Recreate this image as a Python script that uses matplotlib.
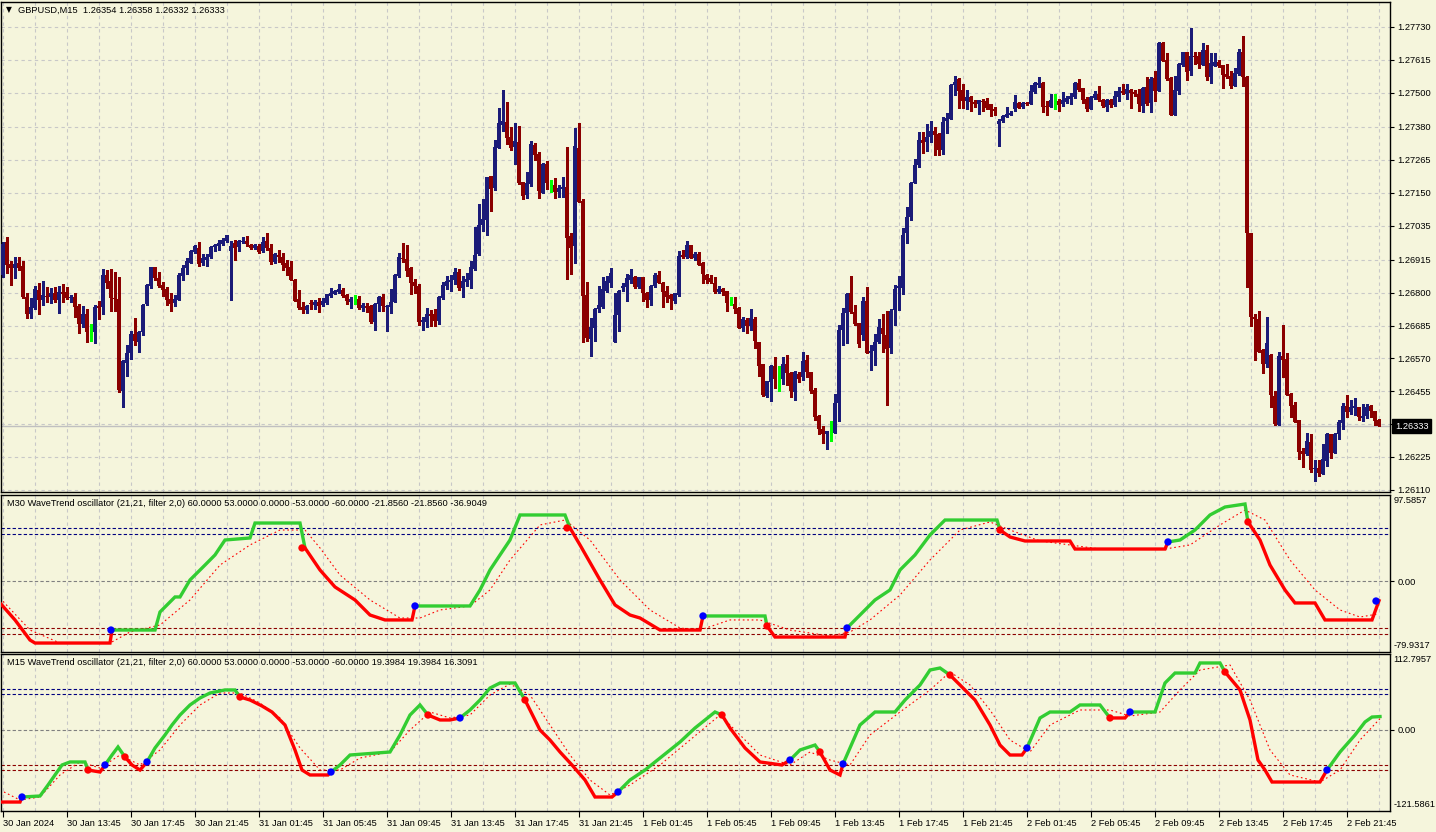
import numpy as np
import matplotlib.pyplot as plt
from matplotlib.transforms import blended_transform_factory

plt.rcParams['font.family'] = ['Liberation Sans', 'DejaVu Sans']
plt.rcParams['font.size'] = 6.7

BG = '#F5F5DC'
BULL = '#1B1B78'
BEAR = '#8B0000'
DOJI = '#00FF00'
GRID = '#C8C8C8'
FS = 6.7

# GBPUSD M15, 30 Jan 2024 09:45 .. 2 Feb 2024 23:45 (345 bars)
# prices in pips above 1.26000
BASE = 1.26
open_pips = [
    86.2, 97.9, 90.0, 88.8, 90.4, 89.4, 78.5, 72.7, 74.8, 81.0, 77.4, 79.0, 78.5, 79.8, 77.4, 80.0,
    80.1, 78.0, 78.5, 75.5, 69.1, 72.5, 66.4, 66.3, 75.4, 75.1, 86.2, 84.1, 78.3, 77.8, 45.7, 55.5,
    58.9, 65.7, 62.9, 66.1, 75.9, 82.4, 89.0, 85.0, 82.7, 81.2, 77.8, 76.3, 77.5, 86.0, 88.7, 90.5,
    94.4, 95.7, 90.3, 91.6, 92.5, 96.0, 96.5, 97.2, 98.1, 94.7, 97.3, 96.0, 97.8, 98.1, 96.7, 95.5,
    96.2, 94.7, 98.1, 95.7, 90.9, 93.3, 92.4, 90.4, 89.0, 84.6, 77.8, 75.0, 74.1, 76.3, 75.7, 76.8,
    75.7, 76.3, 78.9, 79.7, 80.4, 81.0, 79.2, 76.9, 77.7, 77.8, 74.5, 75.5, 75.5, 69.8, 76.1, 78.5,
    74.9, 75.1, 76.8, 86.0, 92.3, 91.8, 88.5, 83.9, 82.5, 69.9, 69.9, 72.7, 72.6, 70.1, 78.0, 82.2,
    83.9, 84.6, 87.3, 81.8, 83.9, 84.6, 88.2, 93.5, 103.6, 105.6, 120.9, 116.7, 130.8, 138.8, 139.8, 134.6,
    131.1, 132.9, 118.6, 114.2, 117.9, 131.7, 128.6, 115.0, 125.1, 118.1, 117.7, 115.1, 116.3, 116.9, 99.9, 96.5,
    130.7, 112.1, 79.2, 63.9, 67.8, 74.3, 75.1, 80.7, 83.5, 62.9, 72.2, 81.8, 81.9, 84.5, 85.6, 81.9,
    85.6, 79.8, 77.5, 82.4, 86.2, 83.3, 80.7, 79.1, 77.2, 79.3, 93.2, 92.6, 96.7, 92.3, 93.6, 90.4,
    86.2, 85.2, 83.5, 80.3, 81.3, 80.5, 76.3, 76.1, 74.8, 67.8, 70.5, 68.4, 70.8, 62.8, 55.1, 44.0,
    48.9, 54.5, 49.9, 49.8, 55.1, 52.0, 45.4, 51.6, 50.4, 56.5, 52.4, 46.0, 37.0, 32.4, 30.4, 31.6,
    31.0, 41.5, 67.0, 72.8, 80.0, 73.3, 69.5, 65.2, 77.2, 59.0, 59.6, 62.7, 67.8, 65.2, 60.8, 74.0,
    81.8, 81.8, 100.8, 106.6, 118.5, 124.7, 133.5, 132.9, 134.4, 136.6, 135.7, 130.1, 140.1, 140.9, 152.6, 154.8,
    151.0, 147.2, 148.5, 146.8, 146.0, 147.2, 147.1, 146.1, 144.4, 139.2, 140.1, 141.5, 142.3, 144.3, 146.5, 145.1,
    146.5, 146.2, 150.4, 152.8, 153.5, 145.4, 145.1, 147.4, 147.1, 146.0, 146.8, 147.9, 148.4, 153.5, 151.5, 147.9,
    144.3, 148.2, 149.6, 147.5, 145.1, 147.4, 145.7, 148.5, 150.5, 149.4, 151.0, 150.1, 149.6, 145.5, 152.0, 146.3,
    155.2, 150.6, 167.5, 161.5, 155.2, 142.2, 150.6, 159.7, 164.1, 157.6, 162.9, 162.9, 159.7, 165.0, 155.6, 159.5,
    160.9, 159.7, 156.6, 155.9, 152.4, 156.6, 164.3, 155.5, 101.0, 71.6, 70.8, 60.0, 55.1, 58.2, 43.9, 33.7,
    57.9, 56.7, 44.6, 40.7, 35.5, 24.6, 23.5, 27.6, 18.2, 18.6, 16.4, 21.2, 30.6, 24.0, 30.5, 34.5,
    40.4, 38.4, 39.8, 39.9, 36.3, 37.0, 40.4, 38.7, 35.4,
]
high_pips = [
    97.9, 99.5, 91.1, 92.5, 92.5, 91.1, 79.8, 78.0, 82.3, 83.3, 84.1, 82.0, 81.5, 82.0, 82.3, 82.9,
    82.0, 79.2, 79.8, 75.9, 75.5, 74.3, 69.1, 75.7, 77.1, 88.2, 87.8, 88.3, 87.1, 85.6, 56.5, 61.7,
    66.6, 71.0, 66.6, 76.2, 83.2, 89.0, 89.0, 87.1, 83.9, 82.1, 79.8, 79.2, 86.9, 89.7, 92.0, 95.1,
    96.7, 97.9, 93.4, 93.4, 96.5, 97.2, 98.3, 99.0, 100.2, 98.1, 98.3, 98.6, 99.6, 100.0, 97.1, 97.2,
    96.9, 99.5, 100.8, 97.1, 93.8, 95.0, 93.8, 91.5, 91.2, 84.8, 81.0, 76.9, 75.7, 77.5, 77.5, 78.0,
    78.0, 79.7, 81.7, 81.1, 82.9, 81.8, 79.5, 78.5, 79.2, 78.9, 76.3, 76.3, 75.7, 76.3, 79.0, 79.7,
    75.7, 81.3, 86.7, 93.8, 97.3, 96.7, 89.1, 84.7, 83.2, 71.6, 74.5, 74.0, 74.3, 79.0, 83.9, 86.0,
    86.2, 88.5, 88.3, 86.0, 86.8, 91.1, 103.1, 111.1, 112.8, 120.5, 120.9, 133.5, 144.7, 151.0, 146.8, 138.1,
    139.3, 138.4, 118.6, 122.3, 133.0, 132.3, 129.3, 125.3, 126.2, 119.5, 120.2, 117.8, 120.5, 131.0, 100.8, 137.7,
    139.5, 112.9, 83.9, 71.3, 74.8, 82.4, 85.6, 85.9, 88.8, 80.0, 81.0, 83.3, 86.4, 88.2, 85.9, 85.6,
    85.6, 80.4, 82.7, 87.0, 87.6, 83.8, 82.5, 79.5, 80.0, 94.7, 95.0, 98.1, 96.7, 94.4, 94.4, 90.7,
    86.6, 86.2, 85.6, 82.5, 81.5, 80.5, 78.4, 78.4, 75.1, 71.6, 71.1, 74.3, 71.6, 62.8, 55.1, 49.2,
    54.7, 57.4, 54.4, 57.4, 58.1, 52.3, 52.6, 52.3, 59.4, 58.2, 52.4, 46.8, 37.2, 33.4, 31.7, 35.2,
    44.6, 68.7, 74.7, 80.0, 85.9, 75.7, 69.5, 78.6, 82.1, 61.8, 65.6, 70.7, 72.7, 73.6, 74.2, 82.7,
    85.9, 102.8, 109.9, 118.8, 126.8, 136.3, 136.3, 139.1, 140.1, 137.9, 136.0, 141.6, 143.0, 153.1, 155.9, 155.2,
    153.1, 151.0, 148.9, 147.5, 147.5, 147.7, 148.0, 146.1, 144.9, 140.7, 142.2, 144.9, 143.7, 149.2, 146.9, 146.7,
    146.8, 152.7, 153.9, 155.4, 153.8, 147.1, 149.6, 149.6, 147.7, 150.1, 148.7, 149.8, 153.8, 154.7, 151.8, 148.6,
    148.9, 150.5, 152.4, 147.9, 147.7, 147.8, 150.5, 152.0, 153.0, 153.1, 151.2, 151.0, 151.3, 152.1, 155.5, 155.4,
    157.6, 167.8, 167.8, 163.9, 155.4, 155.9, 160.3, 164.4, 164.1, 172.8, 164.1, 164.4, 167.3, 166.7, 163.8, 163.8,
    161.5, 159.7, 160.0, 157.7, 158.5, 165.3, 169.9, 155.9, 101.0, 72.6, 73.7, 60.2, 71.6, 58.6, 45.7, 59.4,
    68.7, 59.0, 45.0, 41.9, 35.5, 25.5, 30.8, 30.6, 21.5, 21.5, 27.1, 30.8, 30.6, 31.0, 35.5, 41.5,
    44.2, 42.5, 43.0, 40.1, 41.1, 41.1, 40.7, 38.7, 35.8,
]
low_pips = [
    85.6, 86.8, 82.7, 85.3, 88.0, 78.0, 71.3, 71.3, 74.3, 72.7, 75.7, 76.6, 76.4, 76.9, 72.9, 76.9,
    77.8, 76.9, 71.6, 66.0, 68.1, 62.9, 63.1, 62.5, 70.8, 72.5, 81.5, 73.6, 73.6, 45.4, 40.0, 50.8,
    56.8, 61.7, 59.4, 65.2, 75.7, 81.8, 84.4, 82.1, 79.0, 75.7, 73.6, 75.2, 77.3, 84.3, 86.4, 90.3,
    93.9, 89.5, 89.7, 89.5, 92.3, 94.6, 94.8, 96.7, 97.9, 77.5, 91.5, 94.7, 97.3, 96.5, 95.3, 95.3,
    93.8, 94.4, 95.0, 90.1, 90.3, 90.9, 87.8, 86.2, 84.5, 77.1, 74.3, 72.9, 73.0, 74.2, 74.3, 73.4,
    75.2, 76.2, 78.5, 79.5, 79.8, 78.5, 75.9, 74.8, 75.9, 74.3, 73.6, 73.4, 69.5, 67.0, 73.6, 73.6,
    66.6, 72.9, 76.8, 85.6, 90.9, 86.0, 79.4, 80.0, 68.7, 67.0, 68.1, 68.5, 68.2, 68.9, 77.8, 81.3,
    80.6, 83.2, 81.1, 78.6, 82.4, 81.8, 88.0, 93.1, 101.7, 100.3, 108.7, 116.0, 130.8, 136.7, 131.9, 130.0,
    125.1, 118.1, 112.8, 113.3, 117.5, 126.5, 113.3, 114.8, 116.3, 115.3, 113.3, 113.6, 113.4, 84.8, 86.7, 90.3,
    111.6, 62.8, 63.1, 58.0, 63.1, 73.4, 74.8, 80.4, 82.1, 62.9, 66.7, 80.7, 77.2, 83.3, 81.5, 81.5,
    77.2, 75.1, 75.7, 82.1, 83.3, 75.1, 76.6, 74.4, 76.3, 79.0, 92.1, 92.3, 92.3, 91.5, 89.7, 83.3,
    83.3, 83.3, 80.0, 80.0, 79.1, 73.7, 75.7, 72.8, 67.5, 66.6, 66.0, 67.0, 60.6, 51.0, 43.9, 43.6,
    42.2, 46.6, 45.7, 48.1, 47.6, 43.6, 42.5, 48.9, 49.5, 50.6, 44.8, 35.5, 30.4, 27.3, 25.2, 28.2,
    30.8, 35.2, 61.6, 62.3, 72.8, 68.7, 61.1, 63.5, 59.0, 53.0, 54.7, 62.5, 59.4, 40.7, 58.8, 68.7,
    74.0, 79.6, 97.5, 105.5, 118.3, 124.1, 128.8, 129.7, 132.9, 128.3, 128.3, 128.7, 136.0, 140.9, 149.3, 144.5,
    144.8, 144.3, 143.7, 145.1, 142.7, 143.7, 144.2, 142.0, 142.2, 131.5, 139.9, 141.4, 142.1, 143.7, 144.5, 144.7,
    145.7, 146.0, 149.8, 152.1, 143.3, 142.2, 144.9, 144.4, 143.7, 145.4, 146.3, 146.1, 148.2, 150.6, 146.5, 143.7,
    144.3, 147.9, 147.1, 144.9, 143.7, 144.9, 145.5, 147.1, 149.4, 147.8, 144.7, 149.0, 143.7, 143.4, 145.7, 143.4,
    147.1, 150.5, 161.1, 154.4, 142.2, 142.2, 149.6, 159.4, 154.5, 156.2, 160.1, 158.6, 159.7, 154.5, 153.5, 159.5,
    158.9, 151.7, 155.3, 151.6, 152.4, 156.3, 152.4, 82.1, 68.4, 56.5, 59.1, 51.8, 54.1, 40.1, 33.7, 33.7,
    50.6, 44.2, 36.4, 34.6, 21.7, 19.1, 23.2, 17.4, 14.2, 15.9, 16.4, 19.5, 22.0, 23.8, 28.7, 32.2,
    36.6, 37.4, 37.2, 35.5, 35.2, 36.3, 36.6, 33.7, 33.2,
]
close_pips = [
    96.9, 89.7, 88.8, 90.0, 88.8, 78.5, 72.7, 75.0, 81.2, 77.4, 79.2, 78.5, 79.8, 77.4, 80.4, 79.7,
    78.0, 78.4, 75.1, 69.1, 72.5, 66.3, 66.4, 75.1, 74.8, 86.2, 83.5, 78.3, 77.7, 46.0, 56.1, 58.9,
    65.7, 63.2, 66.1, 75.7, 82.7, 89.0, 85.3, 82.5, 81.0, 77.4, 76.2, 77.7, 86.2, 88.7, 91.1, 94.7,
    96.2, 90.0, 92.3, 92.5, 96.0, 96.7, 97.4, 98.6, 100.2, 96.4, 95.7, 98.2, 98.1, 96.9, 95.8, 96.7,
    94.4, 97.8, 95.5, 90.6, 93.6, 92.4, 89.7, 88.8, 84.5, 77.1, 74.8, 73.8, 75.4, 75.9, 76.8, 75.4,
    77.1, 79.5, 80.0, 80.6, 81.2, 79.0, 77.2, 77.7, 77.7, 74.5, 75.7, 74.8, 69.8, 76.1, 78.5, 75.2,
    75.4, 76.8, 86.2, 92.4, 91.7, 87.7, 83.5, 82.4, 69.9, 70.1, 72.4, 72.0, 70.1, 78.5, 82.7, 84.1,
    84.6, 87.3, 81.8, 84.1, 84.8, 88.9, 93.1, 103.7, 105.8, 120.5, 116.4, 130.9, 139.5, 140.1, 134.3, 130.8,
    133.1, 118.5, 114.0, 118.3, 132.1, 128.3, 115.5, 125.1, 118.3, 118.1, 115.4, 116.7, 117.0, 99.3, 95.8, 131.4,
    111.9, 79.0, 64.3, 68.1, 74.3, 75.7, 81.3, 84.1, 86.8, 72.2, 80.7, 82.0, 85.0, 86.1, 81.9, 85.6,
    79.8, 77.5, 82.4, 86.2, 83.5, 80.4, 78.6, 77.7, 80.0, 92.9, 92.6, 96.7, 92.3, 93.6, 89.7, 86.4,
    84.5, 83.6, 80.4, 81.3, 80.4, 76.3, 76.3, 74.4, 67.8, 70.8, 68.5, 71.2, 63.2, 54.4, 44.2, 49.1,
    54.5, 49.9, 49.9, 55.1, 52.0, 45.6, 52.3, 49.8, 56.1, 52.4, 45.6, 36.6, 32.2, 30.4, 31.7, 31.6,
    41.5, 67.0, 72.8, 79.6, 73.3, 68.9, 62.1, 77.2, 59.0, 59.6, 62.9, 68.0, 65.5, 60.4, 73.7, 81.3,
    82.0, 100.2, 106.6, 118.5, 124.7, 133.5, 132.5, 134.5, 136.6, 135.2, 130.1, 139.8, 141.3, 152.7, 153.8, 150.7,
    147.2, 148.5, 146.7, 146.0, 147.5, 146.7, 144.8, 144.0, 143.7, 140.1, 141.9, 142.6, 142.9, 146.8, 144.8, 146.4,
    146.0, 150.7, 153.5, 153.5, 145.1, 145.1, 147.5, 147.4, 145.8, 147.5, 148.2, 148.9, 153.5, 151.0, 147.5, 144.3,
    148.4, 149.6, 147.4, 145.4, 147.5, 145.8, 148.9, 150.6, 149.8, 151.2, 149.8, 149.4, 146.1, 151.7, 146.1, 154.8,
    150.6, 167.5, 161.1, 154.7, 142.2, 151.0, 160.1, 164.1, 157.4, 163.0, 162.5, 160.1, 165.0, 155.6, 160.3, 160.8,
    159.4, 156.2, 155.6, 152.4, 157.0, 164.3, 155.6, 101.0, 71.6, 70.7, 59.4, 55.1, 62.5, 44.2, 34.1, 57.9,
    56.5, 44.2, 40.5, 34.9, 24.4, 23.5, 28.1, 18.0, 18.6, 17.0, 21.7, 30.6, 24.0, 30.5, 34.6, 40.5,
    38.4, 40.1, 40.4, 36.6, 37.0, 40.1, 38.7, 35.2, 33.3,
]

price_ticks = [1.27730, 1.27615, 1.27500, 1.27380, 1.27265, 1.27150, 1.27035, 1.26915,
               1.26800, 1.26685, 1.26570, 1.26455, 1.26340, 1.26225, 1.26110]
last_price = 1.26333

time_tick_bars = list(range(0, 337, 16))
time_tick_labels = ['30 Jan 2024', '30 Jan 13:45', '30 Jan 17:45', '30 Jan 21:45',
                    '31 Jan 01:45', '31 Jan 05:45', '31 Jan 09:45', '31 Jan 13:45',
                    '31 Jan 17:45', '31 Jan 21:45', '1 Feb 01:45', '1 Feb 05:45',
                    '1 Feb 09:45', '1 Feb 13:45', '1 Feb 17:45', '1 Feb 21:45',
                    '2 Feb 01:45', '2 Feb 05:45', '2 Feb 09:45', '2 Feb 13:45',
                    '2 Feb 17:45', '2 Feb 21:45']

# M30 WaveTrend (bar position, value)
m30_x = [-0.75, 3, 6.75, 8, 26.75, 27.25, 38, 39.25, 43, 44.25, 46.75, 50.5, 53, 55.5, 61.75, 63,
         74.25, 75.5, 79.25, 83, 88, 91.75, 95.5, 102.25, 103, 116.75, 119.25, 121.75, 124.25,
         126.75, 129.25, 140.5, 141.75, 144.25, 149.25, 153, 156.75, 159.25, 164.25, 174.25, 175,
         190.5, 191, 193, 210.5, 211, 214.25, 218, 221.75, 224.25, 228, 231.75, 235.5, 248.5,
         249.25, 251.75, 255.5, 266.75, 268, 290.5, 291.25, 294.25, 298, 301.75, 305.5, 310.5,
         311.25, 314.25, 316.75, 320.5, 323, 328, 330.5, 342.25, 344]
m30_v = [-24.5, -43.7, -66.4, -69.8, -69.8, -55.1, -55.1, -34.7, -17.7, -17.7, 1.5, 18.4, 29.8,
         46.7, 49.0, 65.9, 65.9, 37.7, 12.8, -6.4, -21.1, -38.1, -43.7, -43.7, -27.9, -27.9, -9.8,
         12.8, 29.8, 46.7, 75.0, 75.0, 60.3, 41.1, 1.5, -26.7, -38.1, -41.5, -55.1, -55.1, -39.2,
         -39.2, -50.5, -63.0, -63.0, -52.8, -38.1, -21.1, -9.8, 12.8, 29.8, 52.4, 69.3, 69.3, 58.0,
         50.1, 45.6, 45.6, 36.5, 36.5, 44.5, 46.7, 58.0, 75.0, 84.0, 87.4, 67.1, 46.7, 18.4, -9.8,
         -24.5, -24.5, -43.7, -43.7, -21.9]
m30_sig_x = [-0.75, 6.75, 14.25, 26.75, 31.75, 39.25, 46.75, 54.25, 61.75, 69.25, 75.5, 79.25,
             84.25, 91.75, 99.25, 104.25, 109.25, 116.75, 121.75, 126.75, 134.25, 140.5, 146.75,
             154.25, 161.75, 169.25, 174.25, 181.75, 189.25, 196.75, 206.75, 211.75, 216.75,
             224.25, 231.75, 239.25, 246.75, 251.75, 259.25, 266.75, 274.25, 290.5, 296.75,
             304.25, 310.5, 315.5, 321.75, 328, 334.25, 339.25, 343.75]
m30_sig_v = [-19.0, -55.1, -69.8, -69.8, -57.3, -49.4, -21.1, 18.4, 41.1, 58.0, 58.0, 37.7, 7.1,
             -21.1, -41.5, -41.5, -32.4, -27.9, -9.8, 24.1, 63.7, 69.3, 46.7, 1.5, -32.4, -52.8,
             -55.1, -43.7, -43.7, -55.1, -61.8, -57.3, -43.7, -15.5, 24.1, 58.0, 67.1, 58.0, 45.6,
             41.1, 36.5, 36.5, 41.1, 63.7, 80.6, 69.3, 24.1, -9.8, -32.4, -40.4, -36.9]
m30_dot_x = [27, 74.75, 103, 141, 175, 191, 211, 249.25, 291.25, 311.25, 343.25]
m30_dot_v = [-55.1, 37.7, -27.9, 60.3, -39.2, -50.5, -52.8, 58.0, 44.5, 67.1, -22.3]
m30_dot_up = [True, False, True, False, True, False, True, False, True, False, True]

# M15 WaveTrend
m15_x = [-0.75, 4.25, 4.75, 9.25, 11.25, 13, 14.75, 16.75, 20.5, 21.25, 24.25, 25.5, 27.25, 28.75,
         30.5, 32.25, 34.25, 36, 38, 40.5, 42.25, 44.25, 46.75, 49.25, 51.75, 55.5, 58, 59.25,
         61.75, 64.75, 67.25, 70.5, 73, 74.75, 76.75, 81.25, 82, 84.25, 86.75, 96.75, 99.25,
         101.75, 104.25, 106.25, 109.25, 111.75, 114.25, 116.75, 119.25, 121.75, 124.25, 128,
         130.5, 134.25, 136.75, 139.25, 142.25, 145.5, 148, 152.25, 153.75, 156.75, 160.5, 164.25,
         169.25, 173, 178, 179.75, 181.75, 185.5, 189.25, 194.75, 196.75, 199.25, 203, 204.25,
         206.75, 209.25, 210, 211.75, 214.25, 218, 223, 225.5, 229.25, 231.75, 234.25, 236.75,
         239.25, 243, 246.75, 249.25, 251.75, 254.75, 256, 259.25, 261.75, 266.75, 269.25, 274.25,
         276.75, 280.5, 281.75, 288, 290.5, 293, 298, 299.25, 304.25, 305.5, 309.25, 311.75,
         313.75, 315.5, 317.25, 329.25, 331, 334.25, 338, 340.5, 342.25, 344.25]
m15_v = [-108.2, -108.2, -100.7, -99.2, -82.8, -67.8, -52.9, -48.4, -48.4, -60.4, -63.4, -52.9,
         -38.0, -26.0, -41.0, -52.9, -60.4, -48.4, -27.5, -8.1, 6.8, 21.7, 36.7, 47.1, 54.6, 59.1,
         59.1, 48.6, 44.1, 35.2, 26.2, 6.8, -30.5, -60.4, -67.8, -67.8, -63.4, -52.9, -38.0, -33.5,
         -8.1, 21.7, 36.7, 21.7, 14.3, 14.3, 17.3, 29.2, 44.1, 62.0, 69.5, 69.5, 44.1, -0.7, -15.6,
         -33.5, -52.9, -75.3, -100.7, -100.7, -93.2, -75.3, -60.4, -42.5, -18.6, 2.3, 26.2, 21.7,
         2.3, -27.5, -48.4, -52.9, -45.5, -30.5, -23.1, -33.5, -60.4, -67.8, -51.4, -27.5, 6.8,
         26.2, 26.2, 44.1, 66.5, 88.9, 91.9, 81.4, 66.5, 44.1, 6.8, -23.1, -38.0, -38.0, -27.5,
         17.3, 26.2, 26.2, 36.7, 36.7, 17.3, 17.3, 26.2, 26.2, 69.5, 84.4, 84.4, 99.4, 99.4, 85.9,
         59.1, 14.3, -45.5, -60.4, -78.3, -78.3, -60.4, -33.5, -8.1, 11.3, 18.7, 19.4]
m15_sig_x = [-0.75, 4.25, 9.25, 14.25, 19.25, 24.25, 29.25, 34.25, 39.25, 44.25, 49.25, 54.25,
             59.25, 64.25, 69.25, 74.25, 79.25, 84.25, 89.25, 96.75, 101.75, 106.75, 111.75,
             116.75, 121.75, 126.75, 131.75, 136.75, 141.75, 146.75, 151.75, 156.75, 164.25,
             171.75, 179.25, 184.25, 189.25, 196.75, 201.75, 206.75, 211.75, 216.75, 224.25,
             231.75, 236.75, 241.75, 246.75, 251.75, 256.75, 261.75, 269.25, 276.75, 281.75,
             289.25, 294.25, 299.25, 306.75, 311.75, 316.75, 321.75, 329.25, 334.25, 339.25, 344.25]
m15_sig_v = [-90.2, -105.2, -100.7, -67.8, -48.4, -57.4, -38.0, -52.9, -30.5, 6.8, 36.7, 54.6,
             54.6, 39.6, 17.3, -27.5, -60.4, -60.4, -42.5, -33.5, -0.7, 26.2, 17.3, 21.7, 51.6,
             68.0, 51.6, 6.8, -38.0, -75.3, -97.7, -82.8, -52.9, -15.6, 21.7, -8.1, -38.0, -52.9,
             -33.5, -45.5, -52.9, -8.1, 26.2, 59.1, 85.9, 66.5, 29.2, -15.6, -33.5, 6.8, 29.2, 29.2,
             20.2, 26.2, 59.1, 88.9, 96.4, 44.1, -30.5, -67.8, -78.3, -60.4, -15.6, 16.3]
m15_dot_x = [4.75, 21.25, 25.5, 30.5, 36, 59.25, 82, 106.25, 114.25, 130.5, 153.75, 179.75,
             196.75, 204.25, 210, 236.75, 256, 276.75, 281.75, 305.5, 331]
m15_dot_v = [-100.7, -60.4, -52.9, -41.0, -48.4, 48.6, -63.4, 21.7, 17.3, 44.1, -93.2, 21.7,
             -45.5, -33.5, -51.4, 81.4, -27.5, 17.3, 26.2, 85.9, -60.4]
m15_dot_up = [True, False, True, False, True, False, True, False, True, False, True, False,
              True, False, True, False, True, False, True, False, True]

W, H = 1436, 832
fig = plt.figure(figsize=(W / 100, H / 100), dpi=100)
fig.patch.set_facecolor(BG)


def panel(x0, y0, x1, y1):
    ax = fig.add_axes([x0 / W, 1 - y1 / H, (x1 - x0) / W, (y1 - y0) / H])
    ax.set_facecolor(BG)
    ax.set_xlim(-0.5, 346.75)
    for s in ax.spines.values():
        s.set_color('black')
        s.set_linewidth(1.0)
    ax.yaxis.tick_right()
    ax.tick_params(axis='y', length=3, width=0.8, pad=2.5, labelsize=FS, colors='black')
    ax.tick_params(axis='x', length=0, labelbottom=False)
    for b in range(0, 347, 8):
        ax.axvline(b, color=GRID, lw=0.8, ls=(0, (3, 3)), zorder=0)
    return ax


# ---------------- price panel ----------------
ax = panel(1, 2, 1390, 492)
o = BASE + np.array(open_pips) / 1e4
h = BASE + np.array(high_pips) / 1e4
l = BASE + np.array(low_pips) / 1e4
c = BASE + np.array(close_pips) / 1e4
x = np.arange(len(c))
doji = np.isclose(o, c)
cols = np.where(doji, DOJI, np.where(c > o, BULL, BEAR))

for p in price_ticks:
    ax.axhline(p, color=GRID, lw=0.8, ls=(0, (3, 3)), zorder=0)
ax.axhline(last_price, color='#C0C0C0', lw=1.0, zorder=1)

ax.vlines(x, l, h, colors=cols, lw=0.9, zorder=2, antialiased=False)
body_lo = np.minimum(o, c)
body_h = np.maximum(np.abs(c - o), 0.00004)
nd = ~doji
ax.bar(x[nd], body_h[nd], bottom=body_lo[nd], width=0.8, color=cols[nd], lw=0,
       antialiased=False, zorder=3)
ax.hlines(c[doji], x[doji] - 0.35, x[doji] + 0.35, colors=DOJI, lw=0.8, zorder=3,
          antialiased=False)

ax.set_ylim(BASE + 10.25 / 1e4, BASE + 181.75 / 1e4)
ax.set_yticks(price_ticks)
ax.set_yticklabels(['' if abs(p - 1.26340) < 1e-7 else f'{p:.5f}' for p in price_ticks])

tr = blended_transform_factory(ax.transAxes, ax.transData)
ax.text(1.0035, last_price, f'{last_price:.5f}', transform=tr, color='white', fontsize=FS,
        va='center', ha='left',
        bbox=dict(boxstyle='square,pad=0.3', fc='black', ec='black'), zorder=10, clip_on=False)

fig.text(6 / W, 1 - 10 / H, '\u25BC', fontsize=5.5, family='DejaVu Sans', va='center', ha='left')
fig.text(18 / W, 1 - 10 / H, 'GBPUSD,M15  1.26354 1.26358 1.26332 1.26333', fontsize=FS,
         va='center', ha='left')


# ---------------- oscillators ----------------
def oscillator(ax, xs, vs, sx, sv, dx, dv, dup, lo, hi, title, last):
    ax.set_ylim(lo, hi)
    for lev, col in [(60, '#000080'), (53, '#000080'), (0, '#808080'),
                     (-53, '#8B0000'), (-60, '#8B0000')]:
        ax.axhline(lev, color=col, lw=0.8, ls=(0, (3, 2)), zorder=1)
    ax.plot(sx, sv, color='red', lw=0.8, ls=(0, (1.5, 2.5)), zorder=2)

    # colour of each segment comes from the last crossing dot
    dx = np.array(dx)
    up = []
    for xi in xs[:-1]:
        k = np.where(dx <= xi + 0.01)[0]
        up.append(dup[k[-1]] if len(k) else not dup[0])
    start = 0
    for k in range(1, len(up) + 1):
        if k == len(up) or up[k] != up[start]:
            ax.plot(xs[start:k + 1], vs[start:k + 1], color='#32CD32' if up[start] else '#FF0000',
                    lw=2.4, solid_joinstyle='miter', zorder=3)
            start = k
    ax.scatter(dx, dv, s=28, c=['#0000FF' if u else '#FF0000' for u in dup], lw=0, zorder=4)

    ax.set_yticks([0])
    ax.set_yticklabels(['0.00'])
    ax.text(1.0025, 0.995, f'{hi:.4f}', transform=ax.transAxes, fontsize=FS, va='top', ha='left')
    ax.text(1.0025, 0.01, f'{lo:.4f}', transform=ax.transAxes, fontsize=FS, va='bottom', ha='left')
    ax.text(0.004, 0.975, title + ' 60.0000 53.0000 0.0000 -53.0000 -60.0000 ' + last,
            transform=ax.transAxes, fontsize=FS, va='top', ha='left')


ax30 = panel(1, 495, 1390, 652)
oscillator(ax30, m30_x, m30_v, m30_sig_x, m30_sig_v, m30_dot_x, m30_dot_v, m30_dot_up,
           -79.9317, 97.5857, 'M30 WaveTrend oscillator (21,21, filter 2,0)',
           '-21.8560 -21.8560 -36.9049')

ax15 = panel(1, 654, 1390, 811)
oscillator(ax15, m15_x, m15_v, m15_sig_x, m15_sig_v, m15_dot_x, m15_dot_v, m15_dot_up,
           -121.5861, 112.7957, 'M15 WaveTrend oscillator (21,21, filter 2,0)',
           '19.3984 19.3984 16.3091')

ax15.set_xticks(time_tick_bars)
ax15.set_xticklabels(time_tick_labels, ha='left')
ax15.tick_params(axis='x', length=4, width=0.8, pad=2, labelsize=FS, labelbottom=True)

fig.savefig('out.png', dpi=100, facecolor=BG)
